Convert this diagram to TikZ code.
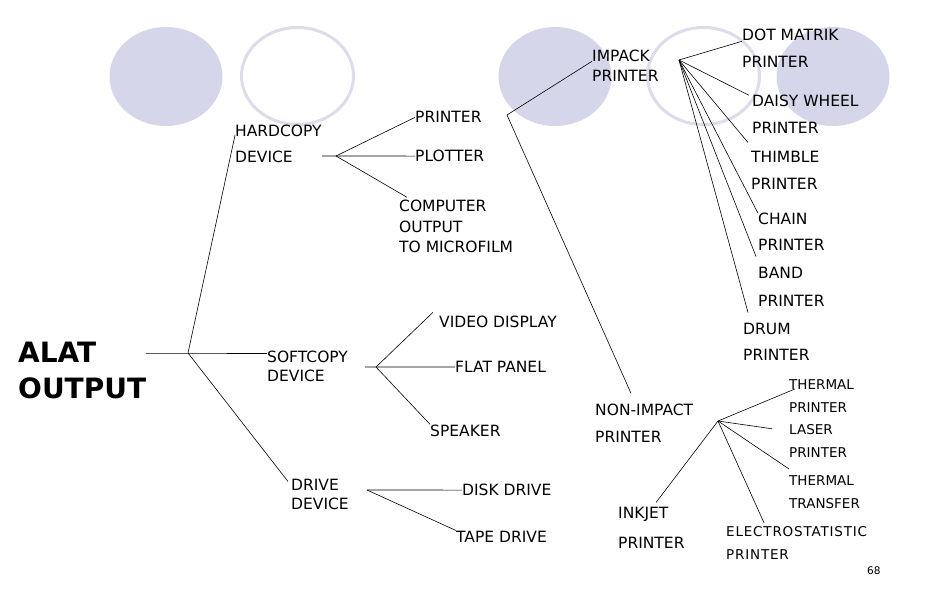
\documentclass[tikz,border=0pt]{standalone}
\usepackage{fontspec}
\setmainfont{DejaVu Sans}
\usepackage{color}
\usepackage{tikz}

\definecolor{blobfill}{RGB}{214,214,234}
\definecolor{ringline}{RGB}{220,220,234}
\newcommand{\lblfont}{\fontsize{15.5}{20}\selectfont}
\newcommand{\smallfont}{\fontsize{13.5}{23}\selectfont}

\begin{document}
\begin{tikzpicture}[x=1pt,y=-1pt]
\tikzstyle{blob} = [fill=blobfill]
\tikzstyle{ring} = [draw=ringline, line width=3pt]
\tikzstyle{lbl} = [font=\lblfont, align=left, inner sep=0pt, anchor=base west]
\tikzstyle{lblsmall} = [lbl, font=\smallfont]
\tikzstyle{branch} = [line width=0.6pt]

\fill[white] (0,0) rectangle (936,612);
\useasboundingbox (0,0) rectangle (936,612);

\foreach \cx in {166, 555, 833} {
\fill[blob] (\cx, 76.5) ellipse (56.5pt and 49.5pt);
}
\foreach \cx in {297.5, 703.5} {
\draw[ring] (\cx, 76) ellipse (56pt and 48.5pt);
}

% multi-line labels sit on their last baseline
\node[lbl, font=\bfseries\fontsize{28}{36}\selectfont] (alat) at (18,398) {ALAT\\OUTPUT};

\node[lbl] (hard) at (235,163) {HARDCOPY\\[6pt]DEVICE};
\node[lbl] (hprinter) at (415,123) {PRINTER};
\node[lbl] (plotter) at (415,161.7) {PLOTTER};
\node[lbl] (com) at (399,252) {COMPUTER\\OUTPUT\\TO MICROFILM};

\node[lbl] (impack) at (592,82) {IMPACK\\PRINTER};
\node[lbl] (dotm) at (742,68) {DOT MATRIK\\[7pt]PRINTER};
\node[lbl] (daisy) at (752,134) {DAISY WHEEL\\[7pt]PRINTER};
\node[lbl] (thimble) at (751,190) {THIMBLE\\[7pt]PRINTER};
\node[lbl] (chain) at (758,251) {CHAIN\\[6pt]PRINTER};
\node[lbl] (band) at (758,306) {BAND\\[8pt]PRINTER};
\node[lbl] (drum) at (743,360) {DRUM\\[6pt]PRINTER};

\node[lbl] (soft) at (267,381) {SOFTCOPY\\[-1pt]DEVICE};
\node[lbl] (video) at (439,327) {VIDEO DISPLAY};
\node[lbl] (flat) at (455,372.6) {FLAT PANEL};
\node[lbl] (speaker) at (430,436) {SPEAKER};

\node[lbl] (drive) at (291,509) {DRIVE\\[-1pt]DEVICE};
\node[lbl] (disk) at (462,495.7) {DISK DRIVE};
\node[lbl] (tape) at (456,542) {TAPE DRIVE};

\node[lbl] (nonimp) at (595,442) {NON-IMPACT\\[7pt]PRINTER};
\node[lbl] (inkjet) at (618,548) {INKJET\\[10pt]PRINTER};
\node[lblsmall] (thermal) at (789,412) {THERMAL\\PRINTER};
\node[lblsmall] (laser) at (789,457) {LASER\\PRINTER};
\node[lblsmall] (transfer) at (789,508) {THERMAL\\TRANSFER};
\node[lblsmall, font=\smallfont\addfontfeatures{LetterSpace=6}] (electro) at (726,559) {ELECTROSTATISTIC\\PRINTER};

\node[lbl, font=\fontsize{10.5}{12}\selectfont] (page) at (867,574) {68};

\coordinate (root) at (188,353);
\coordinate (hjunc) at (336,156);
\coordinate (sjunc) at (376,367);
\coordinate (djunc) at (367,490);
\coordinate (ijunc) at (507,115);
\coordinate (ifan) at (679,60);
\coordinate (nfan) at (718,421);

\draw[branch] (alat.east |- root) -- (root) -- (soft.west |- root);
\draw[branch] ([yshift=-10pt]hard.north west) -- (root) -- ([xshift=-3pt,yshift=-3pt]drive.north west);

\draw[branch] (hard.east |- hjunc) -- (hjunc) -- (plotter.west);
\draw[branch] (hjunc) -- (hprinter.west);
\draw[branch] (hjunc) -- ([xshift=8pt,yshift=3pt]com.north west);

\draw[branch] ([xshift=17pt]soft.east |- sjunc) -- (sjunc) -- (flat.west);
\draw[branch] (sjunc) -- ([xshift=-6pt,yshift=3pt]video.north west);
\draw[branch] (sjunc) -- (speaker.north west);

\draw[branch] (djunc) -- (disk.west);
\draw[branch] (djunc) -- (tape.north west);

\draw[branch] ([yshift=-11pt]impack.north west) -- (ijunc) -- ([xshift=36pt,yshift=10pt]nonimp.north west);

\draw[branch] (ifan) -- ([yshift=-12pt]dotm.north west);
\draw[branch] (ifan) -- ([xshift=-3pt]daisy.north west);
\draw[branch] (ifan) -- ([xshift=-3pt,yshift=9pt]thimble.north west);
\draw[branch] (ifan) -- (chain.north west);
\draw[branch] (ifan) -- ([xshift=-2pt,yshift=10pt]band.north west);
\draw[branch] (ifan) -- ([xshift=5pt,yshift=10pt]drum.north west);

\draw[branch] (nfan) -- ([xshift=6pt,yshift=-10pt]thermal.north west);
\draw[branch] (nfan) -- ([xshift=-17pt,yshift=-5pt]laser.north west);
\draw[branch] (nfan) -- ([yshift=6pt]transfer.north west);
\draw[branch] (nfan) -- ([xshift=38pt,yshift=3pt]electro.north west);
\draw[branch] (nfan) -- ([xshift=38pt,yshift=4pt]inkjet.north west);

\end{tikzpicture}
\end{document}
